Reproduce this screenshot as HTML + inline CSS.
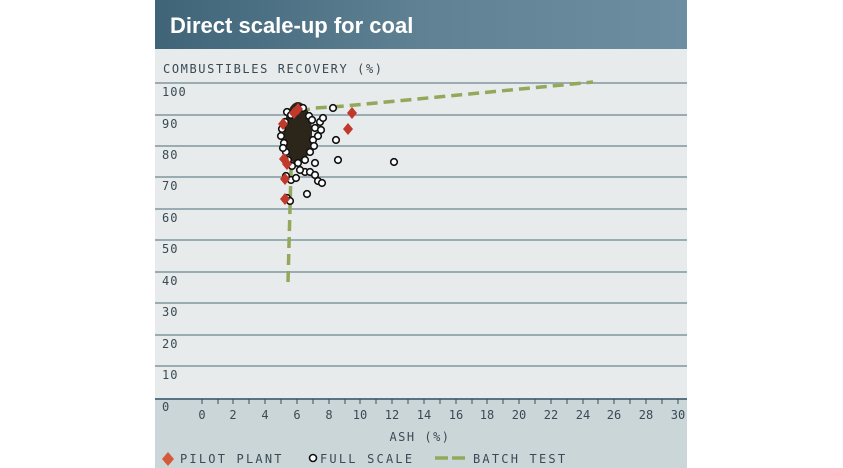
<!DOCTYPE html>
<html><head><style>
body{margin:0;background:#fff;width:843px;height:468px;overflow:hidden}
svg{position:absolute;left:0;top:0}
text{font-family:"DejaVu Sans Mono","Liberation Mono",monospace;}
</style></head><body>
<svg width="843" height="468" viewBox="0 0 843 468">
<defs>
<linearGradient id="hg" x1="0" x2="1" y1="0" y2="0">
<stop offset="0" stop-color="#3f6478"/><stop offset="0.5" stop-color="#5f8193"/><stop offset="1" stop-color="#6d8ea0"/>
</linearGradient>
</defs>
<rect x="155" y="0" width="532" height="49" fill="url(#hg)"/>
<text x="170" y="33" font-weight="bold" font-size="22" fill="#fff" style="font-family:'Liberation Sans',sans-serif">Direct scale-up for coal</text>
<rect x="155" y="49" width="532" height="351" fill="#e7ebeb"/>
<rect x="155" y="400" width="532" height="68" fill="#cbd6d9"/>
<text x="163" y="73" font-size="12" fill="#3a4a55" letter-spacing="1.6">COMBUSTIBLES RECOVERY (%)</text>
<g stroke="#9aabb4" stroke-width="2">
<line x1="155" x2="687" y1="83" y2="83"/><line x1="155" x2="687" y1="115" y2="115"/>
<line x1="155" x2="687" y1="146" y2="146"/><line x1="155" x2="687" y1="177" y2="177"/>
<line x1="155" x2="687" y1="209" y2="209"/><line x1="155" x2="687" y1="240" y2="240"/>
<line x1="155" x2="687" y1="272" y2="272"/><line x1="155" x2="687" y1="303" y2="303"/>
<line x1="155" x2="687" y1="335" y2="335"/><line x1="155" x2="687" y1="366" y2="366"/>
</g>
<line x1="155" x2="687" y1="399" y2="399" stroke="#5b7282" stroke-width="2"/>
<g font-size="12" fill="#3a4a55" letter-spacing="1">
<text x="162" y="96">100</text><text x="162" y="128">90</text><text x="162" y="159">80</text>
<text x="162" y="190">70</text><text x="162" y="222">60</text><text x="162" y="253">50</text>
<text x="162" y="285">40</text><text x="162" y="316">30</text><text x="162" y="348">20</text>
<text x="162" y="379">10</text><text x="162" y="411">0</text>
</g>
<g stroke="#3a4a55" stroke-width="1">
<line x1="202" x2="202" y1="399" y2="404"/><line x1="218" x2="218" y1="399" y2="404"/><line x1="233" x2="233" y1="399" y2="404"/><line x1="249" x2="249" y1="399" y2="404"/><line x1="265" x2="265" y1="399" y2="404"/><line x1="281" x2="281" y1="399" y2="404"/><line x1="297" x2="297" y1="399" y2="404"/><line x1="313" x2="313" y1="399" y2="404"/><line x1="329" x2="329" y1="399" y2="404"/><line x1="345" x2="345" y1="399" y2="404"/><line x1="360" x2="360" y1="399" y2="404"/><line x1="376" x2="376" y1="399" y2="404"/><line x1="392" x2="392" y1="399" y2="404"/><line x1="408" x2="408" y1="399" y2="404"/><line x1="424" x2="424" y1="399" y2="404"/><line x1="440" x2="440" y1="399" y2="404"/><line x1="456" x2="456" y1="399" y2="404"/><line x1="472" x2="472" y1="399" y2="404"/><line x1="487" x2="487" y1="399" y2="404"/><line x1="503" x2="503" y1="399" y2="404"/><line x1="519" x2="519" y1="399" y2="404"/><line x1="535" x2="535" y1="399" y2="404"/><line x1="551" x2="551" y1="399" y2="404"/><line x1="567" x2="567" y1="399" y2="404"/><line x1="583" x2="583" y1="399" y2="404"/><line x1="598" x2="598" y1="399" y2="404"/><line x1="614" x2="614" y1="399" y2="404"/><line x1="630" x2="630" y1="399" y2="404"/><line x1="646" x2="646" y1="399" y2="404"/><line x1="662" x2="662" y1="399" y2="404"/><line x1="678" x2="678" y1="399" y2="404"/>
</g>
<g font-size="12" fill="#3a4a55" text-anchor="middle">
<text x="202" y="419">0</text><text x="233" y="419">2</text><text x="265" y="419">4</text><text x="297" y="419">6</text><text x="329" y="419">8</text><text x="360" y="419">10</text><text x="392" y="419">12</text><text x="424" y="419">14</text><text x="456" y="419">16</text><text x="487" y="419">18</text><text x="519" y="419">20</text><text x="551" y="419">22</text><text x="583" y="419">24</text><text x="614" y="419">26</text><text x="646" y="419">28</text><text x="678" y="419">30</text>
<text x="420" y="441" letter-spacing="1.5">ASH (%)</text>
</g>
<path d="M288,282 L292,135 Q294,110 315,108 L345,106 L593,82" fill="none" stroke="#93a85a" stroke-width="3.5" stroke-dasharray="11,6"/>
<ellipse cx="298" cy="133" rx="14" ry="31" fill="#2b2619"/>
<g fill="#fff" stroke="#111" stroke-width="1.6">
<circle cx="287" cy="112" r="3.3"/><circle cx="285" cy="122" r="3.3"/><circle cx="282" cy="129" r="3.3"/><circle cx="284" cy="143" r="3.3"/><circle cx="286" cy="152" r="3.3"/>
<circle cx="288" cy="160" r="3.3"/><circle cx="292" cy="166" r="3.3"/><circle cx="298" cy="163" r="3.3"/><circle cx="305" cy="160" r="3.3"/><circle cx="310" cy="152" r="3.3"/>
<circle cx="313" cy="140" r="3.3"/><circle cx="315" cy="128" r="3.3"/><circle cx="320" cy="122" r="3.3"/><circle cx="323" cy="118" r="3.3"/><circle cx="321" cy="130" r="3.3"/>
<circle cx="309" cy="116" r="3.3"/><circle cx="303" cy="108" r="3.3"/><circle cx="333" cy="108" r="3.3"/><circle cx="336" cy="140" r="3.3"/><circle cx="338" cy="160" r="3.3"/>
<circle cx="394" cy="162" r="3.3"/><circle cx="286" cy="176" r="3.3"/><circle cx="291" cy="180" r="3.3"/><circle cx="305" cy="172" r="3.3"/><circle cx="310" cy="172" r="3.3"/>
<circle cx="315" cy="175" r="3.3"/><circle cx="318" cy="181" r="3.3"/><circle cx="322" cy="183" r="3.3"/><circle cx="307" cy="194" r="3.3"/><circle cx="287" cy="198" r="3.3"/>
<circle cx="290" cy="201" r="3.3"/><circle cx="296" cy="178" r="3.3"/><circle cx="315" cy="163" r="3.3"/><circle cx="281" cy="136" r="3.3"/>
<circle cx="291" cy="115" r="3.3"/><circle cx="314" cy="146" r="3.3"/><circle cx="312" cy="120" r="3.3"/><circle cx="318" cy="136" r="3.3"/><circle cx="283" cy="148" r="3.3"/><circle cx="300" cy="170" r="3.3"/>
</g>
<g fill="#c0392b">
<path d="M298,103 l5,6 l-5,6 l-5,-6z"/><path d="M294,107 l5,6 l-5,6 l-5,-6z"/><path d="M283,118 l5,6 l-5,6 l-5,-6z"/>
<path d="M352,107 l5,6 l-5,6 l-5,-6z"/><path d="M348,123 l5,6 l-5,6 l-5,-6z"/><path d="M284,153 l5,6 l-5,6 l-5,-6z"/>
<path d="M287,158 l5,6 l-5,6 l-5,-6z"/><path d="M285,173 l5,6 l-5,6 l-5,-6z"/><path d="M285,193 l5,6 l-5,6 l-5,-6z"/>
</g>
<path d="M168,452 l6,7 l-6,7 l-6,-7z" fill="#d55a3a"/>
<circle cx="313" cy="458" r="3.5" fill="#fff" stroke="#111" stroke-width="1.6"/>
<line x1="435" x2="467" y1="458" y2="458" stroke="#93a85a" stroke-width="3.5" stroke-dasharray="13,4"/>
<g font-size="12" fill="#3a4a55" letter-spacing="2.2">
<text x="180" y="463">PILOT PLANT</text><text x="320" y="463">FULL SCALE</text><text x="473" y="463">BATCH TEST</text>
</g>
</svg>
</body></html>
